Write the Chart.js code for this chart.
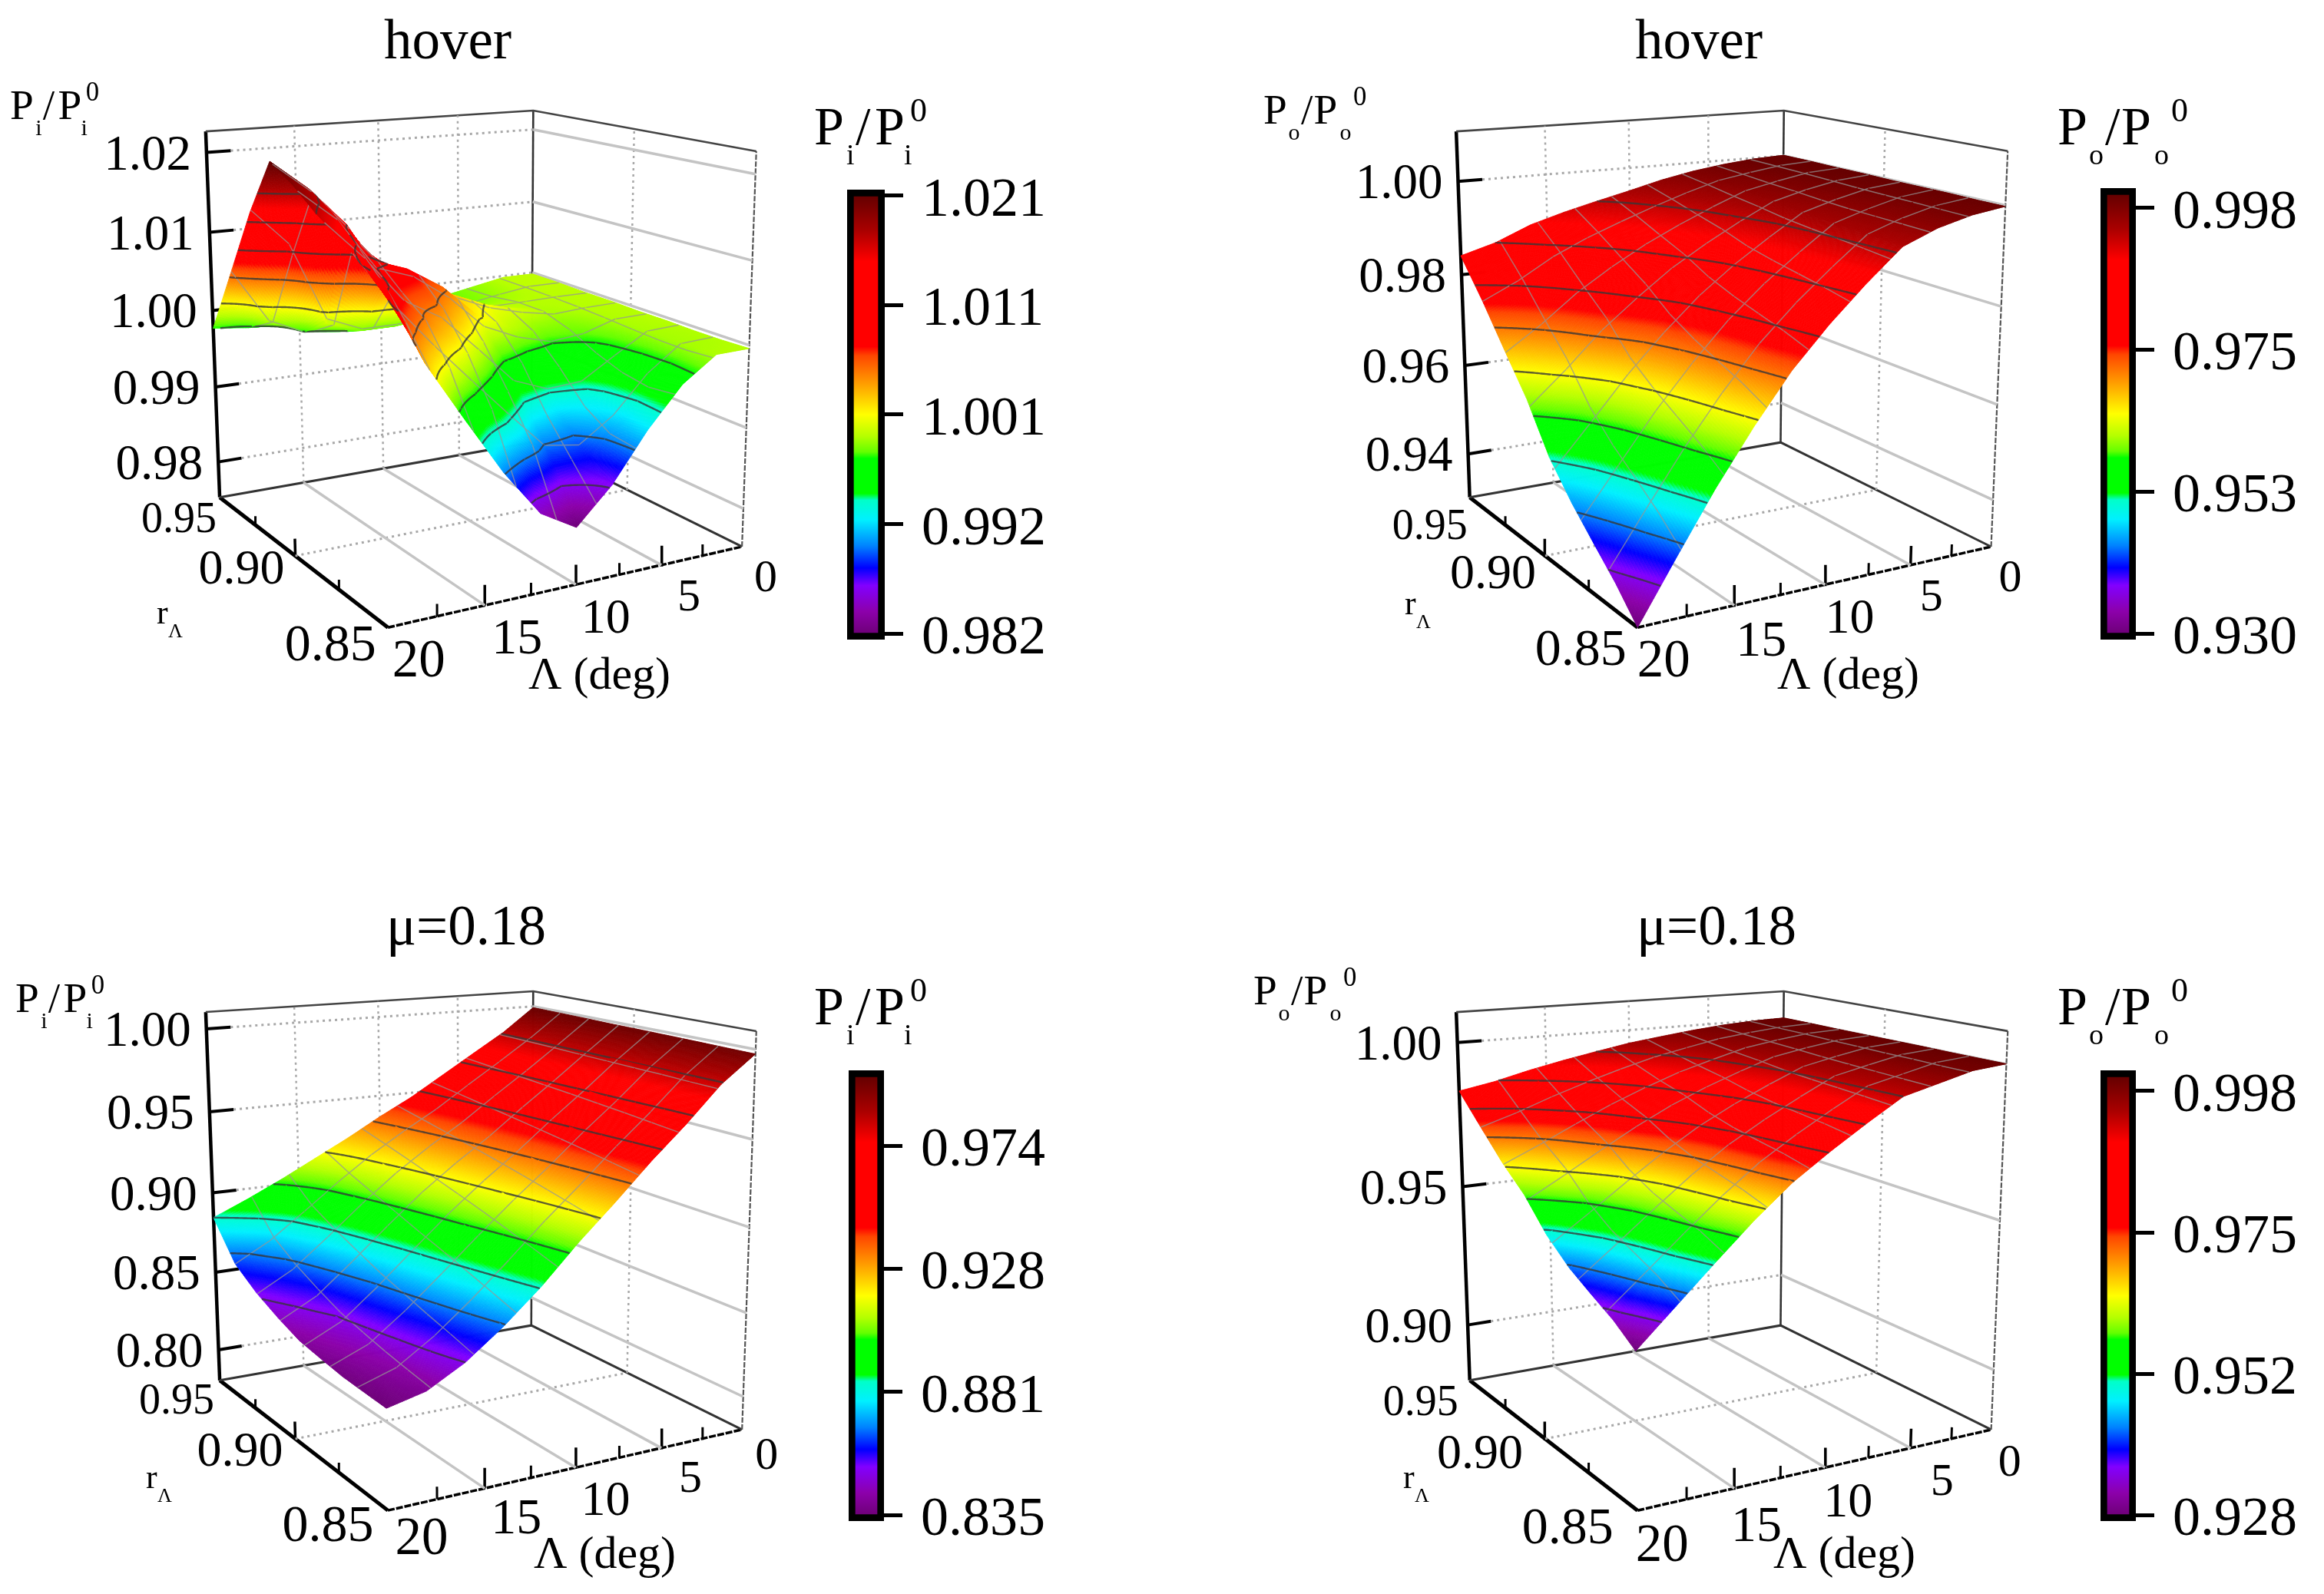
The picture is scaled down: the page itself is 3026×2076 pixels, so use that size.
<!DOCTYPE html>
<html>
<head>
<meta charset="utf-8">
<title>Pi/Pi0 and Po/Po0 surfaces</title>
<script src="https://cdn.jsdelivr.net/npm/chart.js@4/dist/chart.umd.js"></script>
<style>
html,body{margin:0;padding:0;background:#fff;width:3026px;height:2076px;overflow:hidden}
canvas{position:absolute;display:block}
</style>
</head>
<body>
<script>
/* ---------- data ---------- */
const sweepDeg = [0, 2, 4, 6, 8, 10, 12, 14, 16, 18, 20];
const taperRatio = [0.95, 0.93575, 0.922, 0.90875, 0.896, 0.8835, 0.872, 0.86075, 0.85];
const meshSweep = [2.22, 4.44, 6.67, 8.89, 11.11, 13.33, 15.56, 17.78];
const meshTaper = [0.9357, 0.9214, 0.9071, 0.8929, 0.8786, 0.8643];

const hoverPi = [
  [0.9998,0.9998,0.9997,0.9997,0.9996,0.9996,0.9995,0.9995,0.9996],
  [0.9998,0.9998,0.9997,0.9996,0.9995,0.9994,0.9993,0.9993,0.9995],
  [0.9990,0.9992,0.9996,0.9994,0.9985,0.9972,0.9965,0.9962,0.9966],
  [0.9982,0.9985,0.9995,1.0003,0.9985,0.9955,0.9928,0.9915,0.9919],
  [0.9976,0.9980,0.9995,1.0014,0.9998,0.9962,0.9912,0.9880,0.9862],
  [0.9972,0.9975,0.9990,1.0032,1.0018,0.9978,0.9930,0.9882,0.9820],
  [0.9968,0.9972,0.9985,1.0045,1.0058,1.0020,0.9976,0.9925,0.9845],
  [0.9968,0.9970,0.9985,1.0050,1.0085,1.0060,1.0022,0.9970,0.9900],
  [0.9970,0.9975,1.0000,1.0132,1.0100,1.0075,1.0060,1.0020,0.9966],
  [0.9972,0.9995,1.0100,1.0178,1.0160,1.0133,1.0105,1.0072,1.0034],
  [0.9977,1.0062,1.0145,1.0213,1.0195,1.0172,1.0155,1.0137,1.0126]
];
const hoverPo = [
  [1.0001,1.0001,1.0000,1.0000,0.9999,0.9999,0.9999,0.9998,0.9998],
  [0.9998,0.9997,0.9996,0.9994,0.9992,0.9991,0.9990,0.9989,0.9988],
  [0.9991,0.9987,0.9983,0.9980,0.9976,0.9973,0.9972,0.9971,0.9970],
  [0.9981,0.9975,0.9968,0.9962,0.9956,0.9952,0.9949,0.9946,0.9942],
  [0.9967,0.9954,0.9940,0.9928,0.9913,0.9903,0.9896,0.9888,0.9880],
  [0.9949,0.9930,0.9909,0.9890,0.9867,0.9851,0.9838,0.9826,0.9812],
  [0.9932,0.9904,0.9875,0.9848,0.9814,0.9790,0.9772,0.9755,0.9735],
  [0.9914,0.9876,0.9835,0.9796,0.9750,0.9717,0.9692,0.9668,0.9640],
  [0.9893,0.9843,0.9789,0.9740,0.9678,0.9636,0.9603,0.9571,0.9535],
  [0.9862,0.9800,0.9733,0.9671,0.9596,0.9543,0.9504,0.9464,0.9419],
  [0.9841,0.9765,0.9684,0.9608,0.9516,0.9452,0.9402,0.9354,0.9300]
];
const forwardPi = [
  [0.9992,0.9990,0.9988,0.9985,0.9984,0.9982,0.9980,0.9977,0.9975],
  [0.9843,0.9842,0.9840,0.9837,0.9835,0.9833,0.9832,0.9828,0.9827],
  [0.9720,0.9708,0.9696,0.9685,0.9675,0.9663,0.9652,0.9640,0.9629],
  [0.9596,0.9578,0.9559,0.9540,0.9522,0.9503,0.9485,0.9465,0.9447],
  [0.9472,0.9444,0.9416,0.9388,0.9361,0.9333,0.9305,0.9277,0.9249],
  [0.9365,0.9327,0.9289,0.9251,0.9213,0.9173,0.9135,0.9097,0.9060],
  [0.9249,0.9200,0.9150,0.9101,0.9051,0.9002,0.8952,0.8903,0.8853],
  [0.9142,0.9055,0.8989,0.8929,0.8871,0.8819,0.8769,0.8720,0.8672],
  [0.9035,0.8898,0.8815,0.8748,0.8687,0.8639,0.8594,0.8555,0.8515],
  [0.8936,0.8746,0.8649,0.8576,0.8515,0.8477,0.8446,0.8421,0.8400],
  [0.8845,0.8632,0.8533,0.8464,0.8409,0.8385,0.8365,0.8357,0.8350]
];
const forwardPo = [
  [1.0003,1.0003,1.0002,1.0002,1.0002,1.0002,1.0001,1.0001,1.0001],
  [1.0000,0.9998,0.9997,0.9995,0.9994,0.9992,0.9992,0.9990,0.9990],
  [0.9993,0.9987,0.9982,0.9978,0.9973,0.9969,0.9966,0.9963,0.9961],
  [0.9982,0.9973,0.9964,0.9957,0.9949,0.9944,0.9940,0.9936,0.9932],
  [0.9968,0.9950,0.9933,0.9919,0.9902,0.9889,0.9881,0.9873,0.9863],
  [0.9953,0.9926,0.9900,0.9878,0.9851,0.9831,0.9818,0.9806,0.9790],
  [0.9932,0.9894,0.9858,0.9830,0.9793,0.9766,0.9748,0.9732,0.9711],
  [0.9910,0.9859,0.9812,0.9773,0.9723,0.9687,0.9664,0.9641,0.9613],
  [0.9885,0.9820,0.9759,0.9709,0.9645,0.9599,0.9569,0.9541,0.9504],
  [0.9856,0.9777,0.9703,0.9643,0.9564,0.9508,0.9471,0.9436,0.9392],
  [0.9834,0.9740,0.9651,0.9579,0.9485,0.9418,0.9374,0.9333,0.9280]
];

const sweepTicks = [20, 15, 10, 5, 0];
const sweepMinorTicks = [17.5, 12.5, 7.5, 2.5];
const taperTicks = [0.95, 0.90, 0.85];
const taperMinorTicks = [0.925, 0.875];

const zTicks1 = [1.02, 1.01, 1.00, 0.99, 0.98];
const zTicks2 = [1.00, 0.98, 0.96, 0.94];
const zTicks3 = [1.00, 0.95, 0.90, 0.85, 0.80];
const zTicks4 = [1.00, 0.95, 0.90];

const barTicks1 = [1.021, 1.01125, 1.0015, 0.99175, 0.982];
const barLabels1 = ['1.021', '1.011', '1.001', '0.992', '0.982'];
const barTicks2 = [0.998, 0.97534, 0.95267, 0.930];
const barLabels2 = ['0.998', '0.975', '0.953', '0.930'];
const barTicks3 = [0.9739, 0.9276, 0.8813, 0.835];
const barLabels3 = ['0.974', '0.928', '0.881', '0.835'];
const barTicks4 = [0.998, 0.9746, 0.9513, 0.928];
const barLabels4 = ['0.998', '0.975', '0.952', '0.928'];

/* ---------- colour map (fraction of range -> rgb) ---------- */
const colorStops = [
  [0.00,110,0,120],[0.05,140,0,170],[0.11,130,0,255],[0.15,0,0,255],[0.20,0,130,255],
  [0.26,0,240,255],[0.305,0,255,200],[0.32,0,255,0],[0.40,0,255,0],[0.415,100,255,0],
  [0.45,180,255,0],[0.50,255,255,0],[0.565,255,165,0],[0.635,255,70,0],[0.655,255,0,0],
  [0.85,255,0,0],[0.92,170,0,0],[1.00,100,0,0]
];
function colorAt(t){
  t = Math.max(0, Math.min(1, t));
  for (let i = 1; i < colorStops.length; i++){
    const a = colorStops[i-1], b = colorStops[i];
    if (t <= b[0]){
      const f = (t - a[0]) / (b[0] - a[0]);
      return 'rgb(' + Math.round(a[1]+(b[1]-a[1])*f) + ',' + Math.round(a[2]+(b[2]-a[2])*f) + ',' + Math.round(a[3]+(b[3]-a[3])*f) + ')';
    }
  }
  return 'rgb(100,0,0)';
}

/* ---------- panel layout ---------- */
const SERIF = '"Liberation Serif"';
const rFonts = [56, 64, 68];
const sweepFonts = [69, 66, 64, 60, 60];
const panels = [
 { origin:[0,0], values:hoverPi, sub:'i', title:'hover', titleAt:[583,76], range:[0.982,1.021], zRange:[0.9752,1.0226], zTicks:zTicks1,
   corners:{At:[268,171],Ab:[286,648],B:[505,817],Cb:[966,712],Ct:[985,197],Db:[692,576],Dt:[694,144]},
   zLabel:[13,155], barTitle:[1060,188], rName:[204,812], sweepName:[688,897],
   rOff:[[-53,31],[-70,19],[-75,25]], sOff:[[40,46],[42,45],[39,46],[36,43],[31,42]],
   bar:{left:1103,top:247,width:49,height:586,ticks:barTicks1,labels:barLabels1} },
 { origin:[1513,0], values:hoverPo, sub:'o', title:'hover', titleAt:[2212,76], range:[0.930,1.0002], zRange:[0.930,1.0105], zTicks:zTicks2,
   corners:{At:[1896,171],Ab:[1914,648],B:[2132,817],Cb:[2593,712],Ct:[2614,197],Db:[2318,576],Dt:[2323,144]},
   zLabel:[1645,161], barTitle:[2679,188], rName:[1829,800], sweepName:[2314,897],
   rOff:[[-52,40],[-68,25],[-74,31]], sOff:[[34,46],[35,48],[32,46],[27,43],[25,42]],
   bar:{left:2735,top:245,width:46,height:588,ticks:barTicks2,labels:barLabels2} },
 { origin:[0,1038], values:forwardPi, sub:'i', title:'μ=0.18', titleAt:[607,1230], range:[0.835,1.0], zRange:[0.78,1.01], zTicks:zTicks3,
   corners:{At:[268,1318],Ab:[286,1798],B:[505,1967],Cb:[966,1862],Ct:[985,1343],Db:[692,1726],Dt:[694,1291]},
   zLabel:[20,1318], barTitle:[1060,1334], rName:[190,1938], sweepName:[695,2042],
   rOff:[[-56,28],[-72,18],[-78,22]], sOff:[[44,39],[41,41],[39,45],[38,41],[32,35]],
   bar:{left:1105,top:1394,width:46,height:587,ticks:barTicks3,labels:barLabels3} },
 { origin:[1513,1038], values:forwardPo, sub:'o', title:'μ=0.18', titleAt:[2235,1230], range:[0.928,1.0004], zRange:[0.8794,1.0103], zTicks:zTicks4,
   corners:{At:[1896,1318],Ab:[1914,1798],B:[2132,1967],Cb:[2593,1862],Ct:[2614,1343],Db:[2318,1726],Dt:[2323,1291]},
   zLabel:[1632,1308], barTitle:[2679,1334], rName:[1827,1938], sweepName:[2309,2042],
   rOff:[[-64,31],[-85,21],[-91,25]], sOff:[[32,48],[29,51],[30,47],[41,45],[24,44]],
   bar:{left:2735,top:1394,width:46,height:587,ticks:barTicks4,labels:barLabels4} }
];
const PANEL_W = 1513, PANEL_H = 1038;

/* ---------- projective camera fitted on the box corners ---------- */
function fitCamera(p){
  const c = p.corners;
  const obs = [[1,1,0,c.Ab],[1,1,1,c.At],[1,0,0,c.B],[0,0,0,c.Cb],[0,0,1,c.Ct],[0,1,0,c.Db],[0,1,1,c.Dt]];
  const rows = [], rhs = [];
  for (const [u,v,w,xy] of obs){
    const [x,y] = xy;
    rows.push([u,v,w,1,0,0,0,0,-x*u,-x*v,-x*w]); rhs.push(x);
    rows.push([0,0,0,0,u,v,w,1,-y*u,-y*v,-y*w]); rhs.push(y);
  }
  const n = 11, A = [];
  for (let i = 0; i < n; i++){
    A.push(new Array(n+1).fill(0));
    for (let j = 0; j < n; j++) for (let k = 0; k < rows.length; k++) A[i][j] += rows[k][i]*rows[k][j];
    for (let k = 0; k < rows.length; k++) A[i][n] += rows[k][i]*rhs[k];
  }
  for (let i = 0; i < n; i++){
    let m = i;
    for (let k = i+1; k < n; k++) if (Math.abs(A[k][i]) > Math.abs(A[m][i])) m = k;
    [A[i],A[m]] = [A[m],A[i]];
    for (let k = i+1; k < n; k++){
      const f = A[k][i]/A[i][i];
      for (let j = i; j <= n; j++) A[k][j] -= f*A[i][j];
    }
  }
  const q = new Array(n).fill(0);
  for (let i = n-1; i >= 0; i--){
    let s = A[i][n];
    for (let j = i+1; j < n; j++) s -= A[i][j]*q[j];
    q[i] = s/A[i][i];
  }
  const [z0,z1] = p.zRange;
  return function(sweep, taper, z){
    const u = sweep/20, v = (taper-0.85)/0.10, w = (z-z0)/(z1-z0);
    const d = q[8]*u+q[9]*v+q[10]*w+1;
    return { x:(q[0]*u+q[1]*v+q[2]*w+q[3])/d, y:(q[4]*u+q[5]*v+q[6]*w+q[7])/d };
  };
}

/* ---------- surface drawing ---------- */
const SUBDIV = 22;
function drawSurface(chart, panel, project){
  const ctx = chart.ctx, sx = chart.scales.x, sy = chart.scales.y, V = panel.values;
  const [v0,v1] = panel.range, span = v1-v0;
  const px = (sw,ta,z) => { const q = project(sw,ta,z); return [sx.getPixelForValue(q.x), sy.getPixelForValue(q.y)]; };
  const levels = []; for (let k = 1; k <= 9; k++) levels.push(v0 + span*k/10);
  ctx.save();
  ctx.lineJoin = 'round';
  for (let i = 0; i < sweepDeg.length-1; i++){
    for (let j = 0; j < taperRatio.length-1; j++){
      const z00=V[i][j], z01=V[i][j+1], z10=V[i+1][j], z11=V[i+1][j+1];
      const s0=sweepDeg[i], s1=sweepDeg[i+1], t0=taperRatio[j], t1=taperRatio[j+1];
      const zAt = (fa,fb) => z00*(1-fa)*(1-fb)+z01*(1-fa)*fb+z10*fa*(1-fb)+z11*fa*fb;
      const grid = [];
      for (let a = 0; a <= SUBDIV; a++){
        const row = [], fa = a/SUBDIV;
        for (let b = 0; b <= SUBDIV; b++){
          const fb = b/SUBDIV, z = zAt(fa,fb);
          const p = px(s0+(s1-s0)*fa, t0+(t1-t0)*fb, z);
          row.push({x:p[0],y:p[1],z});
        }
        grid.push(row);
      }
      ctx.lineWidth = 0.9;
      for (let a = 0; a < SUBDIV; a++){
        for (let b = 0; b < SUBDIV; b++){
          const A=grid[a][b],B=grid[a][b+1],C=grid[a+1][b+1],D=grid[a+1][b];
          const col = colorAt(((A.z+B.z+C.z+D.z)/4 - v0)/span);
          ctx.fillStyle = col; ctx.strokeStyle = col;
          ctx.beginPath(); ctx.moveTo(A.x,A.y); ctx.lineTo(B.x,B.y); ctx.lineTo(C.x,C.y); ctx.lineTo(D.x,D.y); ctx.closePath();
          ctx.fill(); ctx.stroke();
        }
      }
      // mesh lines crossing this cell
      ctx.strokeStyle = 'rgba(150,150,150,0.72)'; ctx.lineWidth = 1.5;
      ctx.beginPath();
      for (const m of meshSweep){
        if (m >= s0 && m < s1){
          const fa = (m-s0)/(s1-s0);
          const a = px(m,t0,zAt(fa,0)), b = px(m,t1,zAt(fa,1));
          ctx.moveTo(a[0],a[1]); ctx.lineTo(b[0],b[1]);
        }
      }
      for (const m of meshTaper){
        if (m <= t0 && m > t1){
          const fb = (m-t0)/(t1-t0);
          const a = px(s0,m,zAt(0,fb)), b = px(s1,m,zAt(1,fb));
          ctx.moveTo(a[0],a[1]); ctx.lineTo(b[0],b[1]);
        }
      }
      ctx.stroke();
      // contour lines
      ctx.strokeStyle = 'rgba(55,55,55,0.8)'; ctx.lineWidth = 2.4;
      ctx.beginPath();
      for (const L of levels){
        for (let a = 0; a < SUBDIV; a++){
          for (let b = 0; b < SUBDIV; b++){
            const c = [grid[a][b],grid[a][b+1],grid[a+1][b+1],grid[a+1][b]], hits = [];
            for (let k = 0; k < 4; k++){
              const P = c[k], Q = c[(k+1)%4];
              if ((P.z < L) !== (Q.z < L)){
                const f = (L-P.z)/(Q.z-P.z);
                hits.push([P.x+(Q.x-P.x)*f, P.y+(Q.y-P.y)*f]);
              }
            }
            if (hits.length >= 2){ ctx.moveTo(hits[0][0],hits[0][1]); ctx.lineTo(hits[1][0],hits[1][1]); }
            if (hits.length === 4){ ctx.moveTo(hits[2][0],hits[2][1]); ctx.lineTo(hits[3][0],hits[3][1]); }
          }
        }
      }
      ctx.stroke();
    }
  }
  ctx.restore();
}

/* ---------- text ---------- */
function text(ctx, s, x, y, size, align, base){
  ctx.font = size + 'px ' + SERIF;
  ctx.textAlign = align || 'left';
  ctx.textBaseline = base || 'alphabetic';
  ctx.fillStyle = '#000';
  ctx.fillText(s, x, y);
}
function ratioLabel(ctx, x, y, k, sub){
  const o = sub === 'i' ? [42,54,79,117,125] : [41,62,83,126,148];
  text(ctx,'P',x,y,70*k);
  text(ctx,sub,x+o[0]*k,y+26*k,38*k);
  text(ctx,'/',x+o[1]*k,y,70*k);
  text(ctx,'P',x+o[2]*k,y,70*k);
  text(ctx,sub,x+o[3]*k,y+26*k,38*k);
  text(ctx,'0',x+o[4]*k,y-30*k,44*k);
}

/* ---------- surface chart for a panel ---------- */
function line(pts, color, width, dash){
  return { type:'scatter', data:pts, showLine:true, borderColor:color, borderWidth:width, borderDash:dash||[],
           pointRadius:0, fill:false, tension:0, order:10, parsing:false, normalized:false };
}
function buildPanel(panel){
  const project = fitCamera(panel);
  const [z0,z1] = panel.zRange;
  const lam0 = sweepDeg[0], lam1 = sweepDeg[sweepDeg.length-1];
  const r0 = taperRatio[0], r1 = taperRatio[taperRatio.length-1];
  const P = (a,b,c) => project(a,b,c);
  const ds = [];
  const dotted = [3,5], GRID = '#c4c4c4', DOT = '#a8a8a8';
  // walls, floor
  for (const z of panel.zTicks){
    ds.push(line([P(lam1-1.35,r0,z),P(lam0,r0,z)],DOT,3,dotted));
    ds.push(line([P(lam0,r0,z),P(lam0,r1,z)],GRID,3.5));
  }
  for (const s of [5,10,15]){
    ds.push(line([P(s,r0,z0),P(s,r0,z1)],DOT,2.5,dotted));
    ds.push(line([P(s,r0,z0),P(s,r1,z0)],GRID,3.5));
  }
  ds.push(line([P(lam0,0.90,z0),P(lam0,0.90,z1)],DOT,2.5,dotted));
  ds.push(line([P(lam1,0.90,z0),P(lam0,0.90,z0)],DOT,3,dotted));
  // box
  ds.push(line([P(lam1,r0,z1),P(lam0,r0,z1),P(lam0,r1,z1)],'#444',2.6));
  ds.push(line([P(lam0,r0,z0),P(lam0,r0,z1)],'#333',2.6));
  ds.push(line([P(lam0,r1,z0),P(lam0,r1,z1)],'#555',2.2,[7,2]));
  ds.push(line([P(lam1,r0,z0),P(lam0,r0,z0),P(lam0,r1,z0)],'#333',3));
  ds.push(line([P(lam1,r0,z0),P(lam1,r0,z1)],'#000',4.5));
  ds.push(line([P(lam1,r0,z0),P(lam1,r1,z0)],'#000',5));
  ds.push(line([P(lam1,r1,z0),P(lam0,r1,z0)],'#000',3.5,[9,2]));
  // ticks
  for (const z of panel.zTicks) ds.push(line([P(lam1,r0,z),P(lam1-1.35,r0,z)],'#000',4));
  const dz = z1-z0;
  for (const r of taperTicks) if (r!==0.95 && r!==0.85) ds.push(line([P(lam1,r,z0),P(lam1,r,z0+dz*0.045)],'#000',3.5));
  for (const r of taperMinorTicks) ds.push(line([P(lam1,r,z0),P(lam1,r,z0+dz*0.025)],'#000',3));
  for (const s of sweepTicks) if (s!==lam0 && s!==lam1) ds.push(line([P(s,r1,z0),P(s,r1,z0+dz*0.05)],'#000',3.5));
  for (const s of sweepMinorTicks) ds.push(line([P(s,r1,z0),P(s,r1,z0+dz*0.03)],'#000',3));
  // surface nodes
  const nodes = [];
  sweepDeg.forEach((s,i)=>taperRatio.forEach((r,j)=>nodes.push(P(s,r,panel.values[i][j]))));
  ds.push({ type:'scatter', label:'surface', isSurface:true, data:nodes, pointRadius:0, showLine:false, order:1, parsing:false });

  const canvas = document.createElement('canvas');
  canvas.style.left = panel.origin[0]+'px'; canvas.style.top = panel.origin[1]+'px';
  canvas.width = PANEL_W; canvas.height = PANEL_H;
  canvas.style.width = PANEL_W+'px'; canvas.style.height = PANEL_H+'px';
  document.body.appendChild(canvas);

  new Chart(canvas.getContext('2d'), {
    type:'scatter',
    data:{ datasets:ds },
    options:{
      responsive:false, animation:false, devicePixelRatio:1,
      layout:{ padding:0 },
      plugins:{ legend:{display:false}, tooltip:{enabled:false}, title:{display:false} },
      scales:{
        x:{ type:'linear', display:false, min:panel.origin[0], max:panel.origin[0]+PANEL_W },
        y:{ type:'linear', display:false, reverse:true, min:panel.origin[1], max:panel.origin[1]+PANEL_H }
      }
    },
    plugins:[{
      id:'surface3d',
      afterDatasetDraw(chart,args){
        if (chart.data.datasets[args.index].isSurface) drawSurface(chart,panel,project);
      },
      afterDraw(chart){
        const ctx = chart.ctx, sx = chart.scales.x, sy = chart.scales.y;
        const ox = v => sx.getPixelForValue(v), oy = v => sy.getPixelForValue(v);
        ctx.save();
        text(ctx,panel.title,ox(panel.titleAt[0]),oy(panel.titleAt[1]),73,'center');
        ratioLabel(ctx,ox(panel.zLabel[0]),oy(panel.zLabel[1]),0.79,panel.sub);
        ratioLabel(ctx,ox(panel.barTitle[0]),oy(panel.barTitle[1]),1,panel.sub);
        panel.zTicks.forEach(z=>{
          const q = project(lam1,r0,z);
          text(ctx,z.toFixed(2),ox(q.x-20),oy(q.y+5),65,'right','middle');
        });
        taperTicks.forEach((r,i)=>{
          const q = project(lam1,r,z0);
          text(ctx,r.toFixed(2),ox(q.x+panel.rOff[i][0]),oy(q.y+panel.rOff[i][1]),rFonts[i],'center','middle');
        });
        sweepTicks.forEach((s,i)=>{
          const q = project(s,r1,z0);
          text(ctx,String(s),ox(q.x+panel.sOff[i][0]),oy(q.y+panel.sOff[i][1]),sweepFonts[i],'center','middle');
        });
        text(ctx,'r',ox(panel.rName[0]),oy(panel.rName[1]),44);
        text(ctx,'Λ',ox(panel.rName[0]+15),oy(panel.rName[1]+18),26);
        text(ctx,'Λ (deg)',ox(panel.sweepName[0]),oy(panel.sweepName[1]),60);
        ctx.restore();
      }
    }]
  });
}

/* ---------- colour bar ---------- */
function buildBar(panel){
  const b = panel.bar, PAD = 50, AXIS = 270;
  const [v0,v1] = panel.range, extra = (v1-v0)*0.0135;
  const canvas = document.createElement('canvas');
  canvas.style.left = b.left+'px'; canvas.style.top = (b.top-PAD)+'px';
  canvas.style.zIndex = 2;
  canvas.width = b.width+AXIS; canvas.height = b.height+2*PAD;
  canvas.style.width = canvas.width+'px'; canvas.style.height = canvas.height+'px';
  document.body.appendChild(canvas);
  new Chart(canvas.getContext('2d'), {
    type:'bar',
    data:{ labels:[panel.sub], datasets:[{
      data:[[v0-extra, v1+extra]],
      barPercentage:1, categoryPercentage:1, borderWidth:9, borderColor:'#000', borderSkipped:false,
      backgroundColor(ctx){
        const ch = ctx.chart;
        if (!ch.chartArea) return '#fff';
        const g = ch.ctx.createLinearGradient(0,ch.scales.y.getPixelForValue(v0),0,ch.scales.y.getPixelForValue(v1));
        colorStops.forEach(c=>g.addColorStop(c[0],'rgb('+c[1]+','+c[2]+','+c[3]+')'));
        return g;
      }
    }]},
    options:{
      responsive:false, animation:false, devicePixelRatio:1,
      layout:{ padding:{ top:PAD, bottom:PAD, left:0, right:0 } },
      plugins:{ legend:{display:false}, tooltip:{enabled:false} },
      scales:{
        x:{ display:false, offset:true },
        y:{ position:'right', min:v0-extra, max:v1+extra,
            afterBuildTicks(s){ s.ticks = b.ticks.map(v=>({value:v})); },
            afterFit(s){ s.width = AXIS; s.paddingTop = 0; s.paddingBottom = 0; },
            border:{ display:false },
            grid:{ display:true, drawOnChartArea:false, drawTicks:true, tickLength:24, tickWidth:5, tickColor:'#000', color:'#000' },
            ticks:{ autoSkip:false, padding:24, labelOffset:7, color:'#000', maxRotation:0,
                    font:{ family:'Liberation Serif', size:72 },
                    callback(v,i){ return b.labels[i]; } } }
      }
    }
  });
}

panels.forEach(p=>{ buildPanel(p); buildBar(p); });
</script>
</body>
</html>
